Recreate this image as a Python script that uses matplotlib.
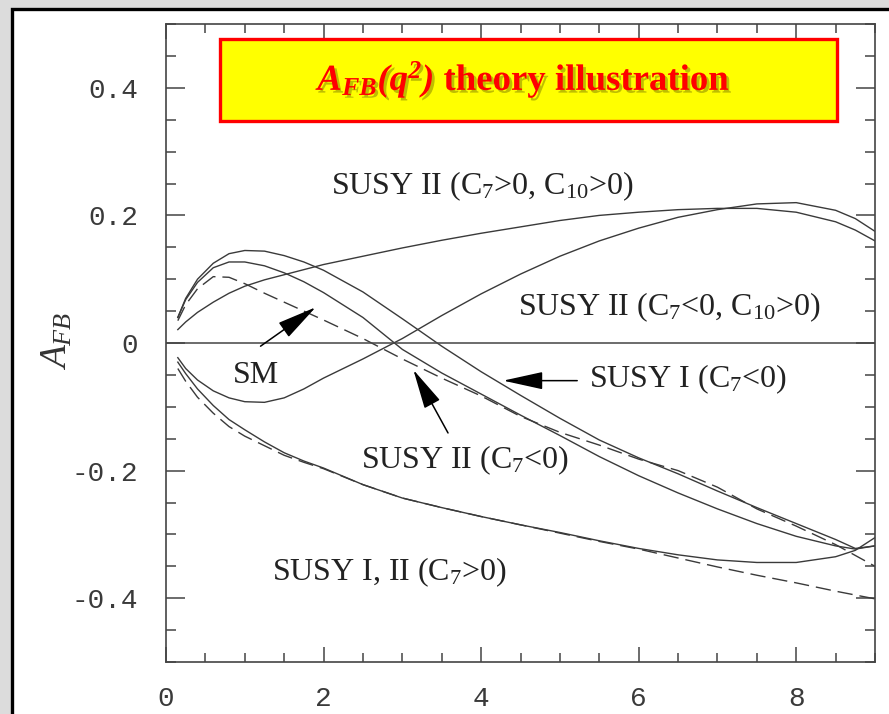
import matplotlib
matplotlib.use("Agg")
import matplotlib.pyplot as plt
from matplotlib.patches import Rectangle
from matplotlib.ticker import MultipleLocator, FixedLocator, FixedFormatter
import matplotlib.patheffects as pe

plt.rcParams['mathtext.fontset'] = 'custom'
plt.rcParams['mathtext.rm'] = 'Liberation Serif'
plt.rcParams['mathtext.it'] = 'Liberation Serif:italic'
plt.rcParams['mathtext.bf'] = 'Liberation Serif:bold'
plt.rcParams['mathtext.bfit'] = 'Liberation Serif:bold:italic'
plt.rcParams['axes.unicode_minus'] = False

# ---------------- data ----------------
q2 = [0.15, 0.25, 0.4, 0.6, 0.8, 1.0, 1.25, 1.5, 1.75, 2.0, 2.5, 3.0, 3.5,
      4.0, 4.5, 5.0, 5.5, 6.0, 6.5, 7.0, 7.5, 8.0, 8.5, 8.75, 9.0]

susy2_c7pos_c10pos = [0.021, 0.033, 0.048, 0.064, 0.078, 0.089, 0.099, 0.107, 0.115,
                      0.123, 0.136, 0.149, 0.161, 0.172, 0.182, 0.192, 0.200, 0.205,
                      0.209, 0.211, 0.211, 0.205, 0.190, 0.177, 0.160]
susy2_c7neg_c10pos = [-0.023, -0.040, -0.058, -0.075, -0.086, -0.092, -0.093, -0.086,
                      -0.072, -0.055, -0.025, 0.007, 0.043, 0.077, 0.108, 0.136, 0.160,
                      0.180, 0.197, 0.209, 0.218, 0.220, 0.208, 0.195, 0.175]
sm = [0.035, 0.060, 0.085, 0.104, 0.103, 0.093, 0.078, 0.064, 0.050, 0.036, 0.007,
      -0.025, -0.055, -0.083, -0.115, -0.140, -0.160, -0.182, -0.200, -0.226, -0.260,
      -0.287, -0.316, -0.333, -0.350]
susy1_c7neg = [0.040, 0.070, 0.100, 0.125, 0.140, 0.145, 0.144, 0.137, 0.127, 0.114,
               0.080, 0.038, -0.005, -0.045, -0.082, -0.118, -0.152, -0.180, -0.205,
               -0.232, -0.258, -0.283, -0.308, -0.322, -0.318]
susy2_c7neg = [0.040, 0.068, 0.095, 0.118, 0.127, 0.127, 0.121, 0.110, 0.096, 0.079,
               0.040, -0.010, -0.047, -0.080, -0.113, -0.145, -0.178, -0.208, -0.235,
               -0.260, -0.283, -0.303, -0.318, -0.323, -0.318]
susy12_c7pos = [-0.030, -0.048, -0.072, -0.098, -0.120, -0.136, -0.155, -0.172, -0.185,
                -0.196, -0.222, -0.243, -0.258, -0.272, -0.285, -0.297, -0.310, -0.322,
                -0.332, -0.340, -0.344, -0.344, -0.335, -0.325, -0.305]
susy12_c7pos_dash = [-0.040, -0.060, -0.085, -0.110, -0.131, -0.146, -0.161, -0.176,
                     -0.187, -0.197, -0.222, -0.243, -0.258, -0.272, -0.285, -0.298,
                     -0.311, -0.323, -0.337, -0.351, -0.364, -0.376, -0.389, -0.395, -0.401]

xticks = [0, 2, 4, 6, 8]
xticklabels = ['0', '2', '4', '6', '8']
yticks = [-0.4, -0.2, 0, 0.2, 0.4]
yticklabels = ['-0.4', '-0.2', '0', '0.2', '0.4']

# ---------------- figure ----------------
W, H = 889, 714
fig = plt.figure(figsize=(W / 100, H / 100), dpi=100, facecolor='#dcdcdc')

# slide panel with black border
panel = Rectangle((12 / W, -0.1), 1.2, 1 - 9 / H + 0.1, transform=fig.transFigure,
                  facecolor='white', edgecolor='black', linewidth=2.4, zorder=0)
fig.add_artist(panel)

ax = fig.add_axes([166 / W, 1 - 662 / H, (875 - 166) / W, (662 - 24) / H])
ax.set_facecolor('white')
ax.set_xlim(0, 9)
ax.set_ylim(-0.5, 0.5)

lc = '#3a3a3a'
lw = 1.0
ax.plot(q2, susy2_c7pos_c10pos, color=lc, lw=lw)
ax.plot(q2, susy2_c7neg_c10pos, color=lc, lw=lw)
ax.plot(q2, susy1_c7neg, color=lc, lw=lw)
ax.plot(q2, susy2_c7neg, color=lc, lw=lw)
ax.plot(q2, sm, color=lc, lw=lw, dashes=(11, 5))
ax.plot(q2, susy12_c7pos, color=lc, lw=lw)
ax.plot(q2, susy12_c7pos_dash, color=lc, lw=lw, dashes=(11, 5))
ax.axhline(0, color='#444444', lw=1.1)

for s in ax.spines.values():
    s.set_color('#444444')
    s.set_linewidth(1.2)

ax.xaxis.set_major_locator(FixedLocator(xticks))
ax.xaxis.set_major_formatter(FixedFormatter(xticklabels))
ax.xaxis.set_minor_locator(MultipleLocator(0.5))
ax.yaxis.set_major_locator(FixedLocator(yticks))
ax.yaxis.set_major_formatter(FixedFormatter(yticklabels))
ax.yaxis.set_minor_locator(MultipleLocator(0.05))

ax.tick_params(axis='both', which='both', direction='in', top=True, right=True,
               color='#444444', width=1.1)
ax.tick_params(axis='x', which='major', length=11, pad=17)
ax.tick_params(axis='x', which='minor', length=6.5)
ax.tick_params(axis='y', which='major', length=13.5, pad=20)
ax.tick_params(axis='y', which='minor', length=7)
for lab in ax.get_xticklabels() + ax.get_yticklabels():
    lab.set_fontfamily('Liberation Mono')
    lab.set_fontsize(20)
    lab.set_color('#3a3a3a')

fig.text(57 / W, 1 - 341 / H, r'$A_{FB}$', rotation=90, fontsize=27,
         ha='center', va='center', color='#333333')

# title box
ax.add_patch(Rectangle((0.684, 0.348), 7.836, 0.129, facecolor='#ffff00',
                       edgecolor='#ff0000', linewidth=2.4, zorder=5))
ax.text(4.55, 0.413, r'$\mathbfit{A_{FB}(q^2)}$' + ' theory illustration',
        fontsize=26.5, fontweight='bold', fontfamily='Liberation Serif', color='#ff0000',
        ha='center', va='center', zorder=6,
        path_effects=[pe.withSimplePatchShadow(offset=(2, -2), shadow_rgbFace='#6f6f00',
                                               alpha=0.45)])

tf = dict(fontsize=23, fontfamily='Liberation Serif', color='#222222', va='center', ha='left')
ax.text(2.09, 0.245, r'SUSY II (C$_7$>0, C$_{10}$>0)', **tf)
ax.text(4.47, 0.056, r'SUSY II (C$_7$<0, C$_{10}$>0)', **tf)
ax.text(0.85, -0.051, 'SM', **tf)
ax.text(5.37, -0.057, r'SUSY I (C$_7$<0)', **tf)
ax.text(2.47, -0.183, r'SUSY II (C$_7$<0)', **tf)
ax.text(1.35, -0.359, r'SUSY I, II (C$_7$>0)', **tf)

ap = dict(arrowstyle='-|>,head_length=1.0,head_width=0.22', color='black', lw=1.1,
          mutation_scale=25, shrinkA=0, shrinkB=0)
ax.annotate('', xy=(1.9, 0.056), xytext=(1.2, -0.005), arrowprops=ap)
ax.annotate('', xy=(4.28, -0.059), xytext=(5.22, -0.059), arrowprops=ap)
ax.annotate('', xy=(3.14, -0.042), xytext=(3.58, -0.141), arrowprops=ap)

fig.savefig('out.png', dpi=100, facecolor=fig.get_facecolor())
